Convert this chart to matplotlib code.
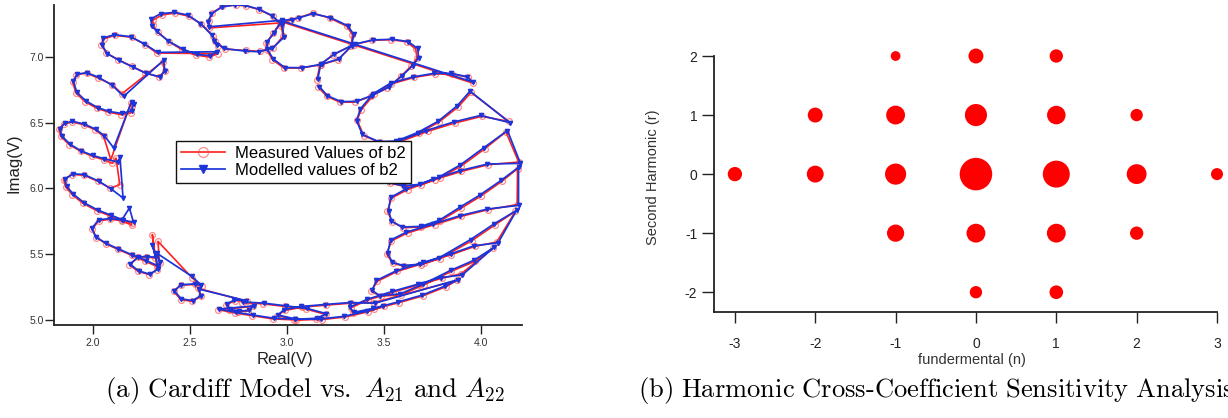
import numpy as np
import matplotlib
matplotlib.use("Agg")
from matplotlib import pyplot as plt

plt.rcParams['font.family'] = ['Liberation Sans', 'DejaVu Sans']
plt.rcParams['mathtext.fontset'] = 'cm'
plt.rcParams['axes.unicode_minus'] = False

# === (a) b2 loops, each row: measured real, imag, modelled real, imag
loop_b = [
    (2.645, 7.080, 2.640, 7.090), (2.620, 7.160, 2.615, 7.165), (2.560, 7.250, 2.555, 7.255),
    (2.495, 7.310, 2.490, 7.320), (2.425, 7.335, 2.420, 7.340), (2.356, 7.320, 2.350, 7.330),
    (2.310, 7.280, 2.300, 7.290), (2.310, 7.240, 2.305, 7.235), (2.335, 7.190, 2.330, 7.195),
    (2.395, 7.115, 2.390, 7.120), (2.460, 7.055, 2.465, 7.060), (2.530, 7.015, 2.535, 7.020),
    (2.600, 7.000, 2.605, 7.010), (2.645, 7.025, 2.640, 7.040),
]
loop_a = [
    (2.330, 7.030, 2.335, 7.035), (2.270, 7.095, 2.265, 7.100), (2.200, 7.150, 2.195, 7.155),
    (2.115, 7.165, 2.110, 7.170), (2.060, 7.140, 2.055, 7.145), (2.043, 7.095, 2.048, 7.090),
    (2.070, 7.030, 2.075, 7.025), (2.130, 6.980, 2.135, 6.975), (2.200, 6.930, 2.205, 6.925),
    (2.270, 6.880, 2.275, 6.875), (2.340, 6.848, 2.345, 6.850), (2.370, 6.890, 2.372, 6.895),
    (2.360, 6.965, 2.365, 6.975),
]
loop_1 = [
    (2.150, 6.720, 2.159, 6.700), (2.100, 6.790, 2.100, 6.785), (2.027, 6.840, 2.030, 6.845),
    (1.968, 6.878, 1.970, 6.880), (1.916, 6.865, 1.920, 6.870), (1.896, 6.810, 1.900, 6.815),
    (1.913, 6.726, 1.918, 6.730), (1.960, 6.660, 1.965, 6.665), (2.020, 6.610, 2.025, 6.615),
    (2.080, 6.580, 2.085, 6.585), (2.145, 6.561, 2.150, 6.570), (2.196, 6.574, 2.200, 6.590),
    (2.204, 6.625, 2.210, 6.640), (2.196, 6.650, 2.200, 6.660),
]
loop_2 = [
    (2.093, 6.218, 2.108, 6.307), (2.056, 6.396, 2.060, 6.400), (2.012, 6.446, 2.015, 6.450),
    (1.953, 6.484, 1.955, 6.490), (1.894, 6.505, 1.895, 6.510), (1.850, 6.490, 1.855, 6.495),
    (1.825, 6.450, 1.830, 6.455), (1.835, 6.395, 1.840, 6.400), (1.879, 6.332, 1.883, 6.335),
    (1.938, 6.282, 1.940, 6.285), (1.997, 6.244, 2.000, 6.250), (2.056, 6.218, 2.060, 6.225),
    (2.100, 6.190, 2.130, 6.200), (2.120, 6.230, 2.140, 6.240),
]
loop_3 = [
    (2.139, 6.028, 2.156, 5.926), (2.090, 6.000, 2.095, 5.995), (2.027, 6.053, 2.030, 6.055),
    (1.953, 6.100, 1.955, 6.105), (1.894, 6.105, 1.898, 6.110), (1.850, 6.066, 1.855, 6.070),
    (1.860, 6.010, 1.865, 6.015), (1.895, 5.950, 1.900, 5.955), (1.950, 5.885, 1.955, 5.890),
    (2.020, 5.830, 2.025, 5.835), (2.090, 5.790, 2.095, 5.795), (2.150, 5.755, 2.155, 5.760),
    (2.200, 5.735, 2.210, 5.740),
]
loop_4 = [
    (2.200, 5.720, 2.189, 5.850), (2.150, 5.752, 2.150, 5.760), (2.090, 5.765, 2.090, 5.770),
    (2.030, 5.752, 2.030, 5.760), (1.997, 5.690, 1.995, 5.695), (2.019, 5.625, 2.015, 5.630),
    (2.070, 5.575, 2.070, 5.580), (2.130, 5.535, 2.130, 5.540), (2.200, 5.490, 2.200, 5.495),
    (2.270, 5.445, 2.275, 5.450), (2.330, 5.405, 2.335, 5.410), (2.307, 5.647, 2.307, 5.571),
]
loop_5 = [
    (2.322, 5.469, 2.325, 5.475), (2.275, 5.478, 2.280, 5.480), (2.233, 5.474, 2.235, 5.478),
    (2.189, 5.418, 2.192, 5.422), (2.233, 5.368, 2.236, 5.372), (2.292, 5.342, 2.295, 5.345),
    (2.330, 5.380, 2.335, 5.385), (2.344, 5.431, 2.346, 5.440), (2.336, 5.596, 2.329, 5.507),
    (2.513, 5.317, 2.510, 5.330),
]
loop_6 = [
    (2.565, 5.255, 2.560, 5.262), (2.528, 5.268, 2.525, 5.272), (2.454, 5.262, 2.455, 5.266),
    (2.417, 5.216, 2.420, 5.220), (2.454, 5.152, 2.456, 5.158), (2.513, 5.139, 2.515, 5.145),
    (2.558, 5.177, 2.556, 5.182), (2.540, 5.240, 2.548, 5.232),
]
loop_7 = [
    (2.793, 5.139, 2.790, 5.145), (2.735, 5.144, 2.730, 5.150), (2.687, 5.114, 2.690, 5.118),
    (2.700, 5.075, 2.705, 5.080), (2.750, 5.060, 2.755, 5.065), (2.800, 5.065, 2.805, 5.070),
    (2.825, 5.100, 2.830, 5.105),
]
bottom_1 = [
    (2.646, 5.076, 2.650, 5.080), (2.735, 5.050, 2.740, 5.055), (2.823, 5.030, 2.828, 5.035),
    (2.930, 5.005, 2.935, 5.010), (3.040, 4.998, 3.045, 5.003), (3.150, 5.005, 3.155, 5.010),
    (3.200, 5.040, 3.205, 5.045), (3.100, 5.080, 3.105, 5.085), (2.990, 5.100, 2.995, 5.105),
    (2.880, 5.120, 2.885, 5.125), (2.770, 5.130, 2.775, 5.135),
]
loop_c = [
    (2.630, 7.120, 2.625, 7.125), (2.680, 7.060, 2.675, 7.065), (2.790, 7.050, 2.785, 7.045),
    (2.860, 7.043, 2.855, 7.040), (2.930, 7.069, 2.925, 7.065), (2.981, 7.157, 2.985, 7.150),
    (2.972, 7.234, 2.978, 7.240), (2.929, 7.310, 2.925, 7.315), (2.859, 7.360, 2.855, 7.365),
    (2.790, 7.390, 2.785, 7.393), (2.738, 7.395, 2.735, 7.398), (2.668, 7.386, 2.665, 7.380),
    (2.616, 7.335, 2.612, 7.330), (2.599, 7.272, 2.595, 7.270), (2.599, 7.221, 2.600, 7.230),
    (2.964, 7.259, 2.975, 7.280),
]
loop_d = [
    (3.020, 7.280, 3.025, 7.285), (3.060, 7.297, 3.065, 7.300), (3.133, 7.335, 3.135, 7.330),
    (3.221, 7.297, 3.225, 7.300), (3.310, 7.234, 3.315, 7.238), (3.339, 7.170, 3.345, 7.172),
    (3.332, 7.081, 3.335, 7.085), (3.265, 6.980, 3.268, 6.985), (3.177, 6.941, 3.180, 6.945),
    (3.074, 6.916, 3.078, 6.918), (2.985, 6.916, 2.990, 6.920), (2.926, 6.980, 2.930, 6.985),
    (2.897, 7.056, 2.900, 7.060), (2.894, 7.107, 2.898, 7.112), (2.930, 7.180, 2.935, 7.185),
    (2.970, 7.270, 2.975, 7.275),
]
loop_e = [
    (3.155, 6.827, 3.160, 6.830), (3.172, 6.942, 3.175, 6.945), (3.241, 7.018, 3.245, 7.022),
    (3.345, 7.094, 3.350, 7.098), (3.440, 7.127, 3.445, 7.130), (3.540, 7.132, 3.545, 7.135),
    (3.620, 7.115, 3.625, 7.118), (3.665, 7.060, 3.675, 7.065), (3.672, 6.992, 3.680, 6.995),
    (3.641, 6.930, 3.650, 6.935), (3.589, 6.853, 3.595, 6.858), (3.519, 6.764, 3.525, 6.770),
    (3.432, 6.701, 3.438, 6.706), (3.354, 6.657, 3.360, 6.662), (3.276, 6.655, 3.280, 6.660),
    (3.207, 6.700, 3.210, 6.705), (3.163, 6.770, 3.168, 6.775),
]
loop_f = [
    (3.962, 6.800, 3.958, 6.810), (3.936, 6.845, 3.930, 6.850), (3.850, 6.872, 3.845, 6.876),
    (3.762, 6.870, 3.758, 6.875), (3.658, 6.845, 3.650, 6.848), (3.540, 6.795, 3.535, 6.800),
    (3.450, 6.715, 3.445, 6.720), (3.385, 6.600, 3.380, 6.605), (3.362, 6.520, 3.360, 6.515),
    (3.398, 6.400, 3.390, 6.410), (3.480, 6.350, 3.475, 6.355), (3.571, 6.355, 3.565, 6.360),
    (3.680, 6.420, 3.675, 6.425), (3.785, 6.505, 3.780, 6.510), (3.884, 6.620, 3.880, 6.630),
    (3.950, 6.730, 3.945, 6.740),
]
loop_g = [
    (4.144, 6.510, 4.150, 6.500), (4.005, 6.548, 4.000, 6.555), (3.866, 6.497, 3.860, 6.505),
    (3.727, 6.434, 3.720, 6.440), (3.589, 6.358, 3.585, 6.365), (3.502, 6.256, 3.495, 6.262),
    (3.470, 6.110, 3.472, 6.115), (3.530, 6.040, 3.525, 6.045), (3.605, 6.015, 3.600, 6.020),
    (3.693, 6.025, 3.688, 6.030), (3.790, 6.080, 3.785, 6.086), (3.900, 6.170, 3.895, 6.178),
    (4.020, 6.300, 4.015, 6.308), (4.130, 6.430, 4.138, 6.440),
]
loop_h = [
    (4.196, 6.200, 4.205, 6.190), (4.040, 6.180, 4.035, 6.185), (3.901, 6.129, 3.895, 6.135),
    (3.762, 6.066, 3.755, 6.070), (3.623, 5.990, 3.615, 5.995), (3.540, 5.926, 3.535, 5.930),
    (3.519, 5.825, 3.525, 5.830), (3.545, 5.745, 3.540, 5.750), (3.600, 5.700, 3.595, 5.705),
    (3.693, 5.705, 3.690, 5.710), (3.790, 5.750, 3.785, 5.755), (3.900, 5.850, 3.895, 5.858),
    (4.000, 5.940, 3.995, 5.948), (4.109, 6.053, 4.105, 6.060), (4.190, 6.150, 4.195, 6.160),
]
loop_i = [
    (4.188, 5.876, 4.195, 5.870), (4.040, 5.838, 4.035, 5.842), (3.901, 5.787, 3.895, 5.792),
    (3.762, 5.723, 3.755, 5.728), (3.623, 5.660, 3.615, 5.665), (3.540, 5.600, 3.535, 5.605),
    (3.515, 5.500, 3.520, 5.505), (3.546, 5.431, 3.545, 5.436), (3.605, 5.406, 3.600, 5.412),
    (3.693, 5.418, 3.688, 5.422), (3.790, 5.465, 3.785, 5.470), (3.953, 5.600, 3.948, 5.610),
    (4.075, 5.723, 4.070, 5.730), (4.179, 5.825, 4.185, 5.832),
]
loop_j = [
    (4.083, 5.591, 4.090, 5.585), (3.970, 5.558, 3.965, 5.562), (3.849, 5.495, 3.845, 5.500),
    (3.710, 5.431, 3.705, 5.436), (3.571, 5.368, 3.565, 5.372), (3.467, 5.292, 3.462, 5.298),
    (3.435, 5.216, 3.440, 5.222), (3.484, 5.178, 3.480, 5.182), (3.589, 5.190, 3.585, 5.196),
    (3.710, 5.266, 3.705, 5.272), (3.849, 5.368, 3.845, 5.375), (3.970, 5.444, 3.965, 5.452),
    (4.066, 5.546, 4.070, 5.552),
]
bottom_3 = [
    (3.900, 5.350, 3.905, 5.340), (3.800, 5.315, 3.795, 5.320), (3.680, 5.265, 3.675, 5.270),
    (3.550, 5.210, 3.545, 5.215), (3.420, 5.150, 3.415, 5.155), (3.330, 5.090, 3.325, 5.095),
    (3.340, 5.050, 3.345, 5.055), (3.450, 5.080, 3.445, 5.085), (3.580, 5.130, 3.575, 5.135),
    (3.700, 5.180, 3.695, 5.185), (3.820, 5.250, 3.815, 5.255), (3.880, 5.300, 3.885, 5.305),
]
bottom_2 = [
    (3.450, 5.130, 3.455, 5.125), (3.330, 5.125, 3.325, 5.130), (3.200, 5.110, 3.195, 5.115),
    (3.080, 5.095, 3.075, 5.100), (2.990, 5.070, 2.985, 5.075), (2.950, 5.030, 2.955, 5.035),
    (3.050, 5.000, 3.045, 5.005), (3.180, 5.000, 3.175, 5.005), (3.300, 5.020, 3.295, 5.025),
    (3.420, 5.060, 3.415, 5.065), (3.500, 5.100, 3.495, 5.105),
]

left_sweep = [loop_b, loop_a, loop_1, loop_2, loop_3, loop_4, loop_5, loop_6, loop_7, bottom_1]
right_sweep = [loop_c, loop_d, loop_f, loop_g, loop_h, loop_i, loop_j, bottom_3, bottom_2]
top_sweep = [loop_e]

# === (b) harmonic cross-coefficient sensitivity
fund_n = [-3, -2, -1, 0, 1, 2, 3, -2, -1, 0, 1, 2, -1, 0, 1, -1, 0, 1, 2, 0, 1]
second_r = [0, 0, 0, 0, 0, 0, 0, 1, 1, 1, 1, 1, 2, 2, 2, -1, -1, -1, -1, -2, -2]
sensitivity = [0.44, 0.52, 0.65, 1.00, 0.83, 0.61, 0.37,
               0.46, 0.58, 0.68, 0.57, 0.38,
               0.30, 0.46, 0.41,
               0.53, 0.58, 0.58, 0.41,
               0.38, 0.42]


def trace(sweeps):
    rows = []
    for sweep in sweeps:
        for loop in sweep:
            rows.extend(loop)
        rows.append((np.nan,) * 4)
    return np.array(rows, dtype=float)


pts = trace([left_sweep, right_sweep, top_sweep])

RED = '#ff1f1f'
BLUE = '#1c34d8'

fig = plt.figure(figsize=(12.28, 4.18), dpi=100)

# ---- left panel
ax = fig.add_axes([54 / 1228, 93 / 418, 468 / 1228, 320 / 418])
ax.plot(pts[:, 0], pts[:, 1], color=RED, lw=1.2, marker='o', ms=4.2,
        mfc='none', mec=(1, 0.25, 0.25, 0.6), mew=0.9,
        label='Measured Values of b2', zorder=2)
ax.plot(pts[:, 2], pts[:, 3], color=BLUE, lw=1.25, marker='v', ms=3.0,
        mfc=BLUE, mec=BLUE, label='Modelled values of b2', zorder=3)

ax.set_xlim(1.80, 4.213)
ax.set_ylim(4.959, 7.396)
ax.set_xticks([2.0, 2.5, 3.0, 3.5, 4.0])
ax.set_yticks([5.0, 5.5, 6.0, 6.5, 7.0])
ax.set_xticklabels(['2.0', '2.5', '3.0', '3.5', '4.0'])
ax.set_yticklabels(['5.0', '5.5', '6.0', '6.5', '7.0'])
for side in ('top', 'right'):
    ax.spines[side].set_visible(False)
for side in ('left', 'bottom'):
    ax.spines[side].set_linewidth(1.3)
    ax.spines[side].set_color('#222222')
ax.tick_params(direction='out', length=6.5, width=1.0, colors='#222222',
               labelsize=7.5, labelcolor='#333333')
ax.tick_params(axis='x', pad=3)
ax.tick_params(axis='y', pad=1)
ax.set_xlabel('Real(V)', fontsize=12, va='center', color='#222222')
ax.set_ylabel('Imag(V)', fontsize=12, va='center', color='#222222')
ax.xaxis.set_label_coords(0.494, -0.108)
ax.yaxis.set_label_coords(-0.085, 0.506)

leg = ax.legend(loc='center', bbox_to_anchor=(293.5 / 1228, 256 / 418),
                bbox_transform=fig.transFigure, numpoints=1, markerscale=1.7,
                fontsize=12, frameon=True, fancybox=False, framealpha=1,
                edgecolor='#111111', handlelength=2.6, handletextpad=0.6,
                borderpad=0.3, labelspacing=0.15, borderaxespad=0)
leg.get_frame().set_linewidth(1.0)

# ---- right panel
bx = fig.add_axes([714 / 1228, 106.3 / 418, 503 / 1228, 256.7 / 418])
sizes = [(23.4 * s) ** 2 for s in sensitivity]
bx.scatter(fund_n, second_r, s=sizes, color='#ff0000', edgecolors='none',
           clip_on=False, zorder=3)
bx.set_xlim(-3.26, 3.0)
bx.set_ylim(-2.33, 2.017)
bx.set_xticks([-3, -2, -1, 0, 1, 2, 3])
bx.set_yticks([-2, -1, 0, 1, 2])
for side in ('top', 'right'):
    bx.spines[side].set_visible(False)
for side in ('left', 'bottom'):
    bx.spines[side].set_linewidth(1.3)
    bx.spines[side].set_color('#222222')
bx.spines['left'].set_bounds(-2.33, 2.0)
bx.tick_params(direction='out', width=1.0, colors='#222222', labelsize=10,
               labelcolor='#222222')
bx.tick_params(axis='x', length=8, pad=10)
bx.tick_params(axis='y', length=9, pad=3)
bx.set_xlabel('fundermental (n)', fontsize=10.5, va='center', color='#333333')
bx.set_ylabel('Second Harmonic (r)', fontsize=10.5, va='center', color='#333333')
bx.xaxis.set_label_coords(0.513, -0.188)
bx.yaxis.set_label_coords(-0.122, 0.525)

# ---- captions
fig.text(305 / 1228, 28 / 418,
         r'$\mathrm{(a)\ Cardiff\ Model\ vs.\ }A_{21}\mathrm{\ and\ }A_{22}$',
         fontsize=19.5, ha='center', va='center')
fig.text(638 / 1228, 28 / 418,
         r'$\mathrm{(b)\ Harmonic\ Cross\text{-}Coefficient\ Sensitivity\ Analysis}$',
         fontsize=19.1, ha='left', va='center')

fig.savefig('out.png', dpi=100)
